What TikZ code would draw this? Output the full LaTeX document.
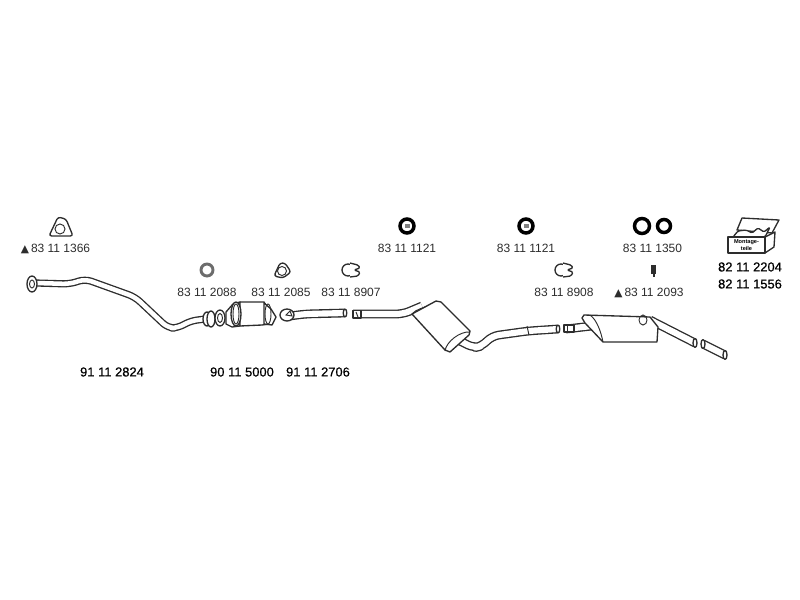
\documentclass[tikz,border=0pt]{standalone}
\usepackage{xcolor}
\usepackage{fontspec}
\setmainfont{Liberation Sans}
\newfontfamily\symfont{DejaVu Sans}
\newfontfamily\numfont[FakeBold=0.6]{Liberation Sans}
\usetikzlibrary{shapes}
\definecolor{ink}{RGB}{45,45,45}
\tikzset{
  partno/.style={text=ink,inner sep=0pt,font=\fontsize{9pt}{10pt}\selectfont},
  mainno/.style={text=black,inner sep=0pt,font=\numfont\fontsize{9.7pt}{11pt}\selectfont},
  pipe/.style={draw=ink,line width=1pt,double=white,double distance=3.4pt,rounded corners=5pt,line join=round},
  fatpipe/.style={pipe,double distance=4.6pt},
  part/.style={draw=ink,line width=1pt,fill=white,line join=round},
  thin part/.style={draw=ink,line width=0.7pt},
  ring/.style={draw=ink!70,line width=2.2pt},
  blackring/.style={draw=black,line width=2.6pt}
}
\newcommand{\tri}{{\symfont\fontsize{8pt}{8pt}\selectfont ▲}}
\begin{document}
\begin{tikzpicture}[x=0.75pt,y=0.75pt,yscale=-1,xscale=1]
\useasboundingbox (0,0) rectangle (800,600);

%Front pipe
\draw [pipe] (36,283) -- (70,284) -- (85,279) -- (135,297) -- (168,328) -- (178,328) -- (190,321) -- (205,319);
\draw [part] (32,284) ellipse [x radius=5, y radius=8];
\draw [thin part] (32,284) ellipse [x radius=2.5, y radius=4];
\draw [part] (207,319) ellipse [x radius=4, y radius=7];
\draw [part] (211,319) ellipse [x radius=4, y radius=8];

%Catalytic converter
\draw [part] (220,318) ellipse [x radius=5, y radius=8];
\draw [thin part] (220,318) ellipse [x radius=2.5, y radius=4.5];
\draw [part] (226,312) -- (233,304) -- (240,302) -- (240,326) -- (232,327) -- (226,324) -- cycle;
\draw [part] (240,302) -- (264,302) -- (270,312) -- (270,324) -- (262,325) -- (240,326) -- cycle;
\draw [part] (236,314) ellipse [x radius=5, y radius=12];
\draw [thin part] (236,314) ellipse [x radius=3, y radius=10];
\draw [part] (264,303) -- (271,309) -- (276,317) -- (272,325) -- (264,324) -- cycle;
\draw [thin part] (268,314) ellipse [x radius=3, y radius=10];

%Middle pipes
\draw [fatpipe] (290,316) -- (305,314) -- (345,313);
\draw [part] (345,313) ellipse [x radius=1.8, y radius=4];
\draw [part] (287,315) ellipse [x radius=7, y radius=6];
\draw [thin part] (286,315) -- (290,311) -- (292,316) -- cycle;
\draw [fatpipe] (353,314) -- (403,314) -- (422,306);
\draw [part] (353,310.5) rectangle (361,318);
\draw [thin part] (356,312) -- (358,317);

%Front muffler
\draw [fatpipe] (460,341) -- (474,348) -- (482,346) -- (492,336) -- (528,331) -- (558,329);
\draw [part] (558,329) ellipse [x radius=1.8, y radius=4];
\draw [part] (412,314) -- (436,301) -- (441,302) -- (470,331) -- (469,335) -- (450,352) -- (445,350) -- cycle;
\draw [thin part] (445,351) .. controls (446,342) and (460,331) .. (470,332);
\draw [thin part] (412,314) .. controls (416,309) and (424,308) .. (427,306);
\draw [thin part] (527,326) -- (529,335);

%Rear muffler
\draw [fatpipe] (566,329) -- (592,326);
\draw [part] (564,325) rectangle (574,332);
\draw [thin part] (567,325) -- (567,332);
\draw [fatpipe] (650,320) -- (695,343);
\draw [part] (695,343) ellipse [x radius=2, y radius=4.5];
\draw [part] (585,323) -- (582,318) -- (584,315) -- (650,317) -- (658,327) -- (657,342) -- (603,342) -- cycle;
\draw [thin part] (590,315) .. controls (597,320) and (601,332) .. (603,342);
\draw [thin part] (643,320) ellipse [x radius=4, y radius=5];
\draw [fatpipe] (703,344) -- (725,355);
\draw [part] (703,344) ellipse [x radius=2, y radius=4.5];
\draw [part] (725,355) ellipse [x radius=2, y radius=4.5];

%Gaskets and clamps
\draw [part,rounded corners=2pt] (49,236) -- (58,217) -- (66,219) -- (73,236) -- cycle;
\draw [thin part] (60,229) circle [radius=5];
\draw [ring] (207,270) circle [radius=6];
\draw [part,rounded corners=2pt] (274,276) -- (280,263) -- (285,263) -- (291,272) -- (283,278) -- cycle;
\draw [thin part] (282,271) circle [radius=4.5];
\draw [part] (348,270) circle [radius=6];
\draw [part,rounded corners=1pt] (350,263) -- (358,265) -- (360,268) -- (354,270) -- (360,272) -- (358,276) -- (350,277);
\draw [blackring] (407,226) circle [radius=7];
\fill [ink!60] (405,224) rectangle (410,228);
\draw [blackring] (526,226) circle [radius=7];
\fill [ink!60] (524,224) rectangle (529,228);
\draw [blackring] (642,226) circle [radius=7.5];
\draw [blackring] (664,226) circle [radius=6.5];
\draw [part] (561,270) circle [radius=6];
\draw [part,rounded corners=1pt] (563,263) -- (571,265) -- (573,268) -- (567,270) -- (573,272) -- (571,276) -- (563,277);
\fill [ink] (651,265) rectangle (656,274);
\fill [ink] (653,274) rectangle (654.5,277);

%Parts box
\draw [part] (765,237) -- (775,232) -- (774,247) -- (765,253) -- cycle;
\draw [part] (737,230) -- (742,218) -- (779,220) -- (772,233) -- cycle;
\draw [part,rounded corners=1pt] (733,237) -- (738,231) -- (746,230) -- (752,233) -- (758,228) -- (764,232) -- (770,227) -- (765,237) -- cycle;
\draw [part] (728,237) rectangle (765,253);

% Text Node
\node (boxlabel) at (746.5,245) [inner sep=0pt,align=center,font=\bfseries\fontsize{4.2pt}{5pt}\selectfont,text=black] {Montage-\\teile};
% Text Node
\node (gasketa) at (55.5,249) [partno] {\tri\,83 11 1366};
% Text Node
\node (ringa) at (207,292) [partno] {83 11 2088};
% Text Node
\node (gasketb) at (281,292) [partno] {83 11 2085};
% Text Node
\node (clampa) at (351,292) [partno] {83 11 8907};
% Text Node
\node (hangera) at (407,248) [partno] {83 11 1121};
% Text Node
\node (hangerb) at (526,248) [partno] {83 11 1121};
% Text Node
\node (ringb) at (652.5,248) [partno] {83 11 1350};
% Text Node
\node (clampb) at (564,292) [partno] {83 11 8908};
% Text Node
\node (plug) at (649,293) [partno] {\tri\,83 11 2093};
% Text Node
\node (kita) at (750,267) [mainno] {82 11 2204};
% Text Node
\node (kitb) at (750,284) [mainno] {82 11 1556};
% Text Node
\node (frontpipe) at (112,372) [mainno] {91 11 2824};
% Text Node
\node (catalyst) at (242,372) [mainno] {90 11 5000};
% Text Node
\node (midpipe) at (318,372) [mainno] {91 11 2706};

\end{tikzpicture}
\end{document}
